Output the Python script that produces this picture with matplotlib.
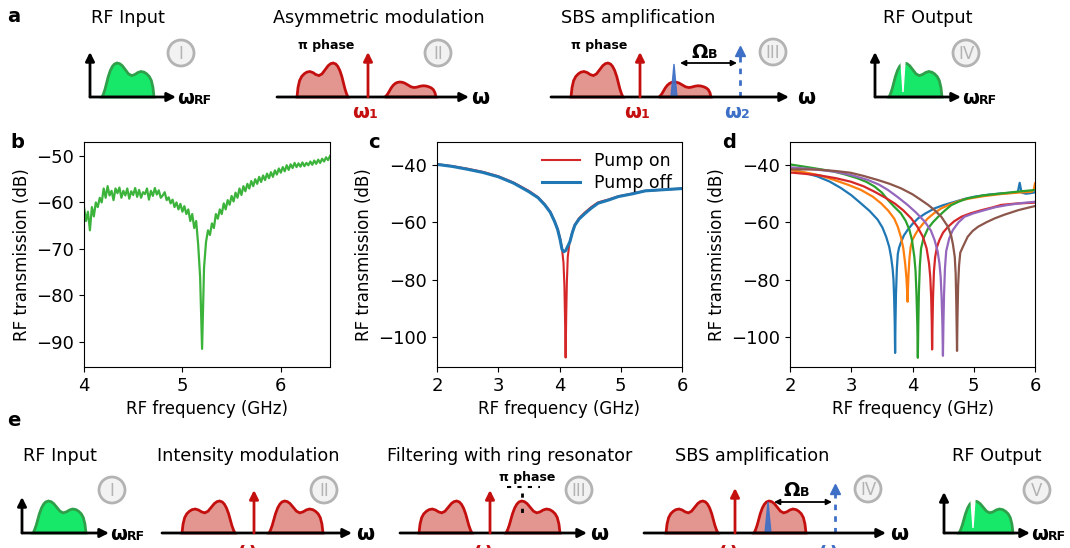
import numpy as np
import matplotlib
matplotlib.use("Agg")
import matplotlib.pyplot as plt
from matplotlib.patches import Circle

# ---- panel b: single noisy trace (dB), evenly spaced 4.0 .. 6.5 GHz
b_db = [
    -61, -64, -62, -66, -61, -63, -60, -61, -59, -60,
    -57, -59, -56.5, -58.5, -57.5, -59.5, -57, -58, -56.8, -59,
    -57.5, -58.5, -57, -59.2, -57.6, -58.4, -56.9, -58.8, -57.3, -59,
    -57.8, -58.2, -57, -59.4, -57.5, -58.6, -56.9, -58.3, -57.4, -59,
    -58.5, -57.8, -59.5, -58.9, -60.2, -59.4, -61, -60, -61.5, -60.3,
    -62, -60.8, -62.5, -61.5, -64, -62.5, -65.5, -64,
    -69, -76, -91.5, -74, -68.5,
    -66, -67, -64.5, -65.5, -62.5, -63.5, -61.5, -62.5, -60.2, -61.5,
    -59.5, -60.5, -58.6, -59.8, -57.9, -59, -57, -58.4, -56.5, -57.6,
    -56, -57, -55.4, -56.5, -55, -56, -54.5, -55.6, -54.2, -55.2,
    -53.8, -54.8, -53.5, -54.5, -53.1, -54, -52.7, -53.6, -52.4, -53.3,
    -52, -53, -51.8, -52.6, -51.5, -52.4, -51.6, -52.3, -51.4, -52.2,
    -51.5, -52, -51.2, -51.9, -51, -51.7, -50.8, -51.5, -50.6, -51.2,
    -50.3, -50.9, -50,
]
b_freq = np.linspace(4.0, 6.5, len(b_db))

# ---- panel c
c_freq_off = [2.0, 2.25, 2.5, 2.75, 3.0, 3.25, 3.5, 3.65, 3.76, 3.85, 3.92, 3.97,
              4.01, 4.04, 4.07, 4.10, 4.13, 4.17, 4.21, 4.25, 4.32, 4.41, 4.52,
              4.63, 4.8, 4.96, 5.2, 5.4, 5.7, 6.0]
c_db_off = [-39.8, -40.5, -41.5, -42.6, -44.1, -46.3, -49.3, -51.4, -53.9, -56.5,
            -59.7, -62.5, -66, -69.3, -70.2, -69.8, -68.5, -66.7, -63.5, -61,
            -58.8, -57, -55, -53.3, -52.2, -51, -50, -49, -48.6, -48.2]
c_freq_on = [2.0, 2.25, 2.5, 2.75, 3.0, 3.25, 3.5, 3.65, 3.76, 3.85, 3.92, 3.97,
             4.01, 4.04, 4.065, 4.08, 4.09, 4.10, 4.11, 4.12, 4.135, 4.16, 4.21,
             4.25, 4.32, 4.41, 4.52, 4.63, 4.8, 4.96, 5.2, 5.4, 5.7, 6.0]
c_db_on = [-39.7, -40.4, -41.3, -42.4, -43.9, -46.1, -49.0, -51.2, -53.7, -56.3,
           -59.5, -62.3, -65.5, -69, -74, -82, -93, -107, -92, -81, -72, -67.5,
           -63.3, -60.8, -58.5, -56.6, -54.6, -53.0, -52.0, -50.9, -49.9, -49,
           -48.6, -48.2]
c_labels = ["Pump on", "Pump off"]

# ---- panel d: six pump settings (blue, orange, green, red, purple, brown)
d_freq = [
    [2.0, 2.2, 2.45, 2.65, 2.83, 3.0, 3.16, 3.3, 3.43, 3.51, 3.57, 3.62, 3.65,
     3.675, 3.69, 3.70, 3.71, 3.716, 3.722, 3.73, 3.745, 3.76, 3.78, 3.81, 3.86,
     3.92, 4.0, 4.09, 4.2, 4.36, 4.5, 4.69, 4.85, 5.02, 5.25, 5.45, 5.67, 5.72,
     5.75, 5.78, 5.85, 5.93, 6.0],
    [2.0, 2.3, 2.5, 2.72, 2.95, 3.16, 3.35, 3.49, 3.6, 3.7, 3.76, 3.81, 3.85,
     3.88, 3.9, 3.91, 3.92, 3.928, 3.935, 3.95, 3.97, 4.0, 4.05, 4.09, 4.17,
     4.25, 4.35, 4.47, 4.6, 4.8, 5.0, 5.18, 5.45, 5.73, 5.95, 5.98, 6.0],
    [2.0, 2.3, 2.5, 2.72, 2.9, 3.1, 3.25, 3.38, 3.5, 3.6, 3.7, 3.81, 3.89, 3.95,
     3.99, 4.03, 4.05, 4.065, 4.078, 4.087, 4.095, 4.105, 4.12, 4.14, 4.18, 4.25,
     4.33, 4.42, 4.52, 4.63, 4.75, 4.9, 5.15, 5.45, 5.75, 6.0],
    [2.0, 2.2, 2.45, 2.75, 2.99, 3.2, 3.38, 3.55, 3.71, 3.85, 3.98, 4.08, 4.17,
     4.23, 4.27, 4.29, 4.305, 4.315, 4.32, 4.327, 4.335, 4.35, 4.37, 4.4, 4.44,
     4.5, 4.58, 4.68, 4.8, 4.95, 5.13, 5.3, 5.45, 5.7, 6.0],
    [2.0, 2.35, 2.72, 3.0, 3.27, 3.45, 3.6, 3.76, 3.92, 4.06, 4.2, 4.3, 4.36,
     4.41, 4.44, 4.46, 4.475, 4.488, 4.497, 4.505, 4.515, 4.53, 4.55, 4.6, 4.66,
     4.75, 4.85, 5.0, 5.18, 5.35, 5.56, 5.8, 6.0],
    [2.0, 2.45, 2.75, 2.99, 3.2, 3.43, 3.62, 3.81, 4.0, 4.14, 4.25, 4.36, 4.47,
     4.58, 4.63, 4.66, 4.69, 4.705, 4.715, 4.727, 4.735, 4.745, 4.76, 4.78, 4.82,
     4.86, 4.9, 4.98, 5.07, 5.2, 5.34, 5.5, 5.73, 5.9, 6.0],
]
d_db = [
    [-41.5, -42.5, -44, -45.8, -48, -50.5, -53.4, -56, -59, -61.8, -65, -68.5, -72,
     -76, -80, -86, -95, -105.4, -95, -85, -76, -71, -68.8, -67, -64.5, -62.6,
     -60.5, -58.6, -57, -55.1, -54, -52.8, -51.8, -51, -50.3, -49.9, -49.6, -49.4,
     -46.2, -49.6, -50, -49.8, -49.5],
    [-41.7, -42.8, -43.7, -45.2, -46.9, -48.7, -51, -53.4, -55.8, -58.6, -61.5,
     -65, -69, -74.3, -79, -83, -87.6, -82, -78, -72.5, -68.5, -66, -64, -62.6,
     -60.5, -58.6, -56.8, -55.1, -53.8, -52.2, -51.4, -50.8, -50.1, -49.6, -49.3,
     -48.5, -46.4],
    [-39.8, -40.8, -41.5, -42.3, -43.3, -44.6, -45.9, -47.5, -49.6, -52.2, -54.5,
     -56.8, -59.5, -62.6, -66, -72, -77, -85, -95, -107.1, -95, -84, -75, -69,
     -65.5, -62.2, -60, -58, -56, -54, -52.8, -51.6, -50.6, -49.9, -49.2, -48.7],
    [-42.6, -43, -43.5, -44.6, -45.8, -47.4, -49.3, -51.3, -53.4, -55.8, -58.6,
     -61.5, -65, -69, -74.3, -79, -86, -95, -104.2, -95, -86, -77, -72, -68.5,
     -66.1, -63.5, -61.5, -59.6, -58, -56.8, -55.7, -54.8, -53.9, -53.4, -53.1],
    [-40.8, -41.4, -42.3, -43.5, -45.2, -46.8, -48.7, -51.2, -53.9, -56.6, -59.7,
     -62.8, -66.1, -70, -74.3, -79, -86, -95, -106.4, -95, -85, -76, -70, -65.5,
     -62.6, -60, -58, -56.8, -55.7, -54.7, -53.9, -53.2, -52.8],
    [-41.5, -41.6, -42.1, -42.7, -43.8, -45.2, -46.5, -48.1, -50.2, -52.2, -53.8,
     -55.7, -58, -61.5, -64.5, -67.6, -72, -78, -88, -104.7, -92, -82, -75, -70.5,
     -68.6, -66.8, -65, -63, -61.5, -60, -58.6, -57.3, -55.7, -54.8, -54.3],
]

# schematic spectrum outline (higher lobe on the right), relative units
SHAPE_X = [0, .02, .05, .09, .14, .19, .25, .31, .37, .43, .49, .55, .61, .66,
           .71, .76, .8, .84, .88, .91, .94, .97, .99, 1]
SHAPE_Y = [0, .28, .48, .6, .68, .73, .75, .72, .66, .63, .68, .8, .92, .98,
           1.0, .97, .9, .78, .6, .42, .24, .1, .03, 0]

RED, RED_FILL = "#c40f0f", "#e3958f"
GREEN_EDGE, GREEN_FILL = "#2f9f4a", "#17e86a"
BLUE = "#3d6fc6"
GREY = "#b3b3b3"

W, H = 1070, 548
fig = plt.figure(figsize=(W / 100, H / 100), dpi=100)
ov = fig.add_axes([0, 0, 1, 1])
ov.set_xlim(0, W)
ov.set_ylim(H, 0)
ov.axis("off")


def arrow(x0, y0, x1, y1, color="black", lw=2, style="-|>", ms=13):
    ov.annotate("", xy=(x1, y1), xytext=(x0, y0), zorder=4,
                arrowprops=dict(arrowstyle=style, color=color, lw=lw,
                                shrinkA=0, shrinkB=0, mutation_scale=ms))


def hump(x0, x1, base, h, mirror=False, fc=RED_FILL, ec=RED):
    sx = np.array(SHAPE_X)
    if mirror:
        sx = 1 - sx
    ov.fill(x0 + (x1 - x0) * sx, base - h * np.array(SHAPE_Y),
            fc=fc, ec=ec, lw=2, zorder=2)


def badge(x, y, txt):
    ov.add_patch(Circle((x, y), 13, fc="#f2f2f2", ec=GREY, lw=2, zorder=3))
    ov.text(x, y + 1, txt, ha="center", va="center", fontsize=12,
            color=GREY, zorder=4)


def omega(x, y, sub, color="black", big="ω"):
    ov.text(x + 1, y, big, ha="right", va="center", fontsize=14,
            fontweight="bold", color=color)
    ov.text(x + 1, y + 3, sub, ha="left", va="center", fontsize=9,
            fontweight="bold", color=color)


def rf_axes(x0, x1, top, base):
    arrow(x0, base, x0, top)
    arrow(x0, base, x1, base)
    omega(x1 + 17, base + 1, "RF")


def green_hump(x0, x1, base, h, notch=None):
    hump(x0, x1, base, h, mirror=True, fc=GREEN_FILL, ec=GREEN_EDGE)
    if notch is not None:
        ov.fill([notch - 2, notch + 2, notch], [base - h - 2, base - h - 2, base - 5],
                color="white", zorder=3)


def blue_pump(x, base, top):
    ov.plot([x, x], [base, top + 6], ls=(0, (2, 2.2)), color=BLUE, lw=2, zorder=3)
    ov.plot(x, top + 3, marker="^", ms=7, color=BLUE, zorder=3)


def title(x, y, s):
    ov.text(x, y, s, ha="center", va="center", fontsize=12.7)


# ---------------- row a
ov.text(14, 17, "a", fontsize=14, fontweight="bold", ha="center", va="center")
ba = 97
title(128, 18, "RF Input")
rf_axes(90, 176, 52, ba)
green_hump(102, 154, ba, 34)
badge(181, 53, "I")

title(379, 18, "Asymmetric modulation")
arrow(277, ba, 469, ba)
ov.text(480, ba + 1, "ω", ha="center", va="center", fontsize=15, fontweight="bold")
hump(297, 348, ba, 34)
arrow(368, ba, 368, 52, color=RED)
hump(385, 436, ba, 15, mirror=True)
ov.text(326, 45, "π phase", ha="center", va="center", fontsize=9, fontweight="bold")
omega(368, 112, "1", color=RED)
badge(438, 53, "II")

title(638, 18, "SBS amplification")
arrow(551, ba, 789, ba)
ov.text(806, ba + 1, "ω", ha="center", va="center", fontsize=15, fontweight="bold")
hump(571, 623, ba, 34)
arrow(640, ba, 640, 52, color=RED)
hump(659, 711, ba, 15, mirror=True)
ov.fill([671, 674, 677], [ba, 64, ba], color=BLUE, alpha=0.9, zorder=3)
ov.text(599, 45, "π phase", ha="center", va="center", fontsize=9, fontweight="bold")
arrow(680, 63, 737, 63, style="<|-|>", lw=1.3, ms=8)
omega(707, 52, "B", big="Ω")
blue_pump(740, ba, 48)
omega(640, 112, "1", color=RED)
omega(740, 112, "2", color=BLUE)
badge(773, 52, "III")

title(928, 18, "RF Output")
rf_axes(875, 961, 52, ba)
green_hump(889, 942, ba, 34, notch=903)
badge(966, 53, "IV")

# ---------------- row e
ov.text(14, 420, "e", fontsize=14, fontweight="bold", ha="center", va="center")
be = 533
title(60, 456, "RF Input")
rf_axes(22, 109, 497, be)
green_hump(33, 86, be, 32)
badge(112, 490, "I")

title(248, 456, "Intensity modulation")
arrow(162, be, 352, be)
ov.text(365, be + 1, "ω", ha="center", va="center", fontsize=15, fontweight="bold")
hump(182, 235, be, 32)
arrow(254, be, 254, 490, color=RED)
hump(269, 323, be, 32, mirror=True)
omega(254, 551, "1", color=RED)
badge(324, 490, "II")

title(510, 456, "Filtering with ring resonator")
arrow(400, be, 587, be)
ov.text(599, be + 1, "ω", ha="center", va="center", fontsize=15, fontweight="bold")
hump(419, 472, be, 32)
arrow(490, be, 490, 490, color=RED)
hump(506, 560, be, 32, mirror=True)
ov.text(527, 477, "π phase", ha="center", va="center", fontsize=9, fontweight="bold")
ov.plot([507, 540], [487, 487], ls=(0, (2, 3)), color="black", lw=1.5, zorder=5)
ov.plot([522, 522], [493, 518], ls=(0, (1.5, 4)), color="black", lw=2, zorder=5)
omega(490, 551, "1", color=RED)
badge(579, 490, "III")

title(752, 456, "SBS amplification")
arrow(644, be, 886, be)
ov.text(899, be + 1, "ω", ha="center", va="center", fontsize=15, fontweight="bold")
hump(666, 718, be, 32)
arrow(735, be, 735, 488, color=RED)
hump(754, 806, be, 32, mirror=True)
ov.fill([765, 768, 771], [be, 502, be], color=BLUE, alpha=0.9, zorder=3)
arrow(774, 502, 832, 502, style="<|-|>", lw=1.3, ms=8)
omega(799, 490, "B", big="Ω")
blue_pump(835, be, 486)
omega(735, 551, "1", color=RED)
omega(835, 551, "2", color=BLUE)
badge(868, 489, "IV")

title(997, 456, "RF Output")
rf_axes(944, 1030, 492, be)
green_hump(959, 1013, be, 32, notch=973)
badge(1037, 490, "V")


# ---------------- data panels
def px_axes(l, t, r, b):
    return fig.add_axes([l / W, 1 - b / H, (r - l) / W, (b - t) / H])


def style(ax, letter, lx):
    ax.tick_params(labelsize=13)
    ax.set_xlabel("RF frequency (GHz)", fontsize=12)
    ax.set_ylabel("RF transmission (dB)", fontsize=12)
    fig.text(lx / W, 1 - 142 / H, letter, fontsize=14, fontweight="bold",
             ha="center", va="center")


axb = px_axes(84, 142, 330, 367)
axb.plot(b_freq, b_db, color="#3cb43c", lw=1.6)
axb.set_xlim(4, 6.5)
axb.set_ylim(-95.4, -47)
axb.set_xticks([4, 5, 6])
axb.set_yticks([-90, -80, -70, -60, -50])
style(axb, "b", 17)

axc = px_axes(437, 142, 682, 367)
axc.plot(c_freq_on, c_db_on, color="#d62728", lw=1.5, label=c_labels[0])
axc.plot(c_freq_off, c_db_off, color="#1f77b4", lw=2.2, label=c_labels[1])
axc.set_xlim(2, 6)
axc.set_ylim(-110.3, -32)
axc.set_xticks([2, 3, 4, 5, 6])
axc.set_yticks([-100, -80, -60, -40])
axc.legend(loc="upper right", frameon=False, fontsize=12.5,
           borderaxespad=0.2, handlelength=2.2, labelspacing=0.2)
style(axc, "c", 374)

axd = px_axes(790, 142, 1035, 367)
for f, v in zip(d_freq, d_db):
    axd.plot(f, v, lw=1.6)
axd.set_xlim(2, 6)
axd.set_ylim(-110.3, -32)
axd.set_xticks([2, 3, 4, 5, 6])
axd.set_yticks([-100, -80, -60, -40])
style(axd, "d", 729)

fig.savefig("out.png", dpi=100)
